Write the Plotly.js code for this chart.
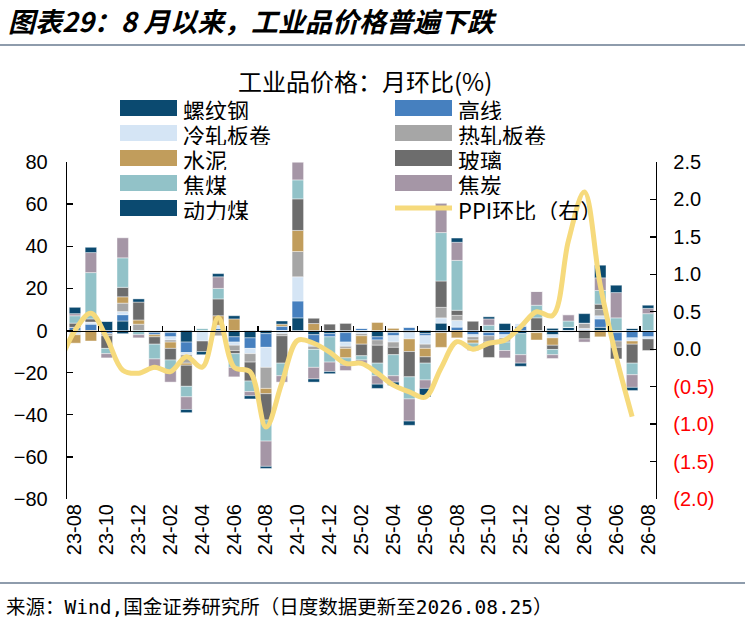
<!DOCTYPE html>
<html>
<head>
<meta charset="utf-8">
<script src="https://cdn.plot.ly/plotly-3.0.1.min.js"></script>
<style>
  html, body { margin: 0; padding: 0; background: #fff; }
  #chart { width: 745px; height: 624px; }
</style>
</head>
<body>
<div id="chart"></div>
<script>
// 月份（柱状图）
const months = ['23-08','23-09','23-10','23-11','23-12','24-01','24-02','24-03','24-04','24-05','24-06','24-07',
  '24-08','24-09','24-10','24-11','24-12','25-01','25-02','25-03','25-04','25-05','25-06','25-07',
  '25-08','25-09','25-10','25-11','25-12','26-01','26-02','26-03','26-04','26-05','26-06','26-07','26-08'];
const tickMonths = ['23-08','23-10','23-12','24-02','24-04','24-06','24-08','24-10','24-12','25-02',
  '25-04','25-06','25-08','25-10','25-12','26-02','26-04','26-06','26-08'];

// 各品种月环比贡献（%）
const rebar   = [-1,0,4.5,4.5,0,-1,-1,-5.5,0,0,-3,-3.5,-1.5,0,6,-2,-1.5,-1,0,-3,-1,-1,-1.5,3.5,0,0,-1,0,-1.5,0,-2,1.5,0,1.5,-1,1,0];
const wire    = [1.5,3,-1.5,3,0,-1,-2,-5,0,1,-2.5,-5,-6.5,2,8,-4,-1.5,-4.5,1,-1.5,-1.5,1.5,-1,-1,1.6,-2,-1.5,-2,2,0,0,0,0,4,-4,-3.5,-3];
const coldRoll= [-1,1,0,1.5,0,0,-1.5,-1,-5,1.5,-1.5,-2.5,-9.5,-1.5,11.5,-1.5,0,-2,-1.5,0,-3,-3,-4,2.5,3.2,-1,0,-1.5,1.5,-1,-1.5,-1,1,1.5,0,-1.5,-1];
const hotRoll = [0,0,-1,4,3,0,-1,-4,0,-2.5,-2.5,-4,-10,-1,12,-1.5,0,-1,-1,-2.5,-2.5,0,-2,5,2.4,-1.5,-3,-2,0,0,0,0,2.5,3,-3,0,0];
const cement  = [-4,-5,0,3,2,-1,-3,-1,0,4.5,5.5,0,-2.5,1,10,3.3,0,-4.5,-4,3.8,1,-6,-4,-7,-3.5,-1.5,0,0,0,-3.5,-3.5,0,0,-3,0,-1.5,0];
const glass   = [2,1.5,-6,4.5,8.5,-3.5,-5.5,-10,-5,8,-1.5,-9,-12.5,-13,15,2.5,3,3.5,-5.5,-8.5,-3.5,-12,-3,12.5,2.4,4.5,-7.3,0,0,6,-2,0,-4,2.5,-5.5,-9,-5.5];
const cokingCoal = [3.5,22,-2.5,14,-2,-7,-5,-5,1,5,-6.5,-5,-10,-6,9,-8.5,-12,-3.5,-2,-6,-10,-10.5,-8,23,23.7,-2,2.5,-4,-10,6,-2.5,3,0,6.5,6,-5.5,8];
const coke    = [1,9.5,-2,9.5,-1.5,-5,-5.5,-6,0,5.5,-4.5,-2,-12,-3,8.5,-5.5,-4.5,-2.5,-1.5,-4,-3,-10.5,-4,14,8.6,-1.5,3,-3.5,-4,6.5,-1.8,3,-1.5,6,12,-6,2.5];
const thermalCoal = [3,2.5,0,-1.5,1.5,0,0,-1.5,-1.5,1.5,1.5,-1.5,-1,1.5,0,-1.5,-1,0,0,-2,-1.5,-2,-4,0,2,0,1,3.3,-1.5,0,1,0,4.5,6,3.5,-1.5,1.5];

// PPI 环比（右轴，%）
const ppiMonths = ['23-07','23-08','23-09','23-10','23-11','23-12','24-01','24-02','24-03','24-04','24-05','24-06',
  '24-07','24-08','24-09','24-10','24-11','24-12','25-01','25-02','25-03','25-04','25-05','25-06',
  '25-07','25-08','25-09','25-10','25-11','25-12','26-01','26-02','26-03','26-04','26-05','26-06','26-07'];
const ppi = [-0.2,0.25,0.48,0.15,-0.28,-0.32,-0.24,-0.3,-0.1,-0.24,0.42,-0.24,-0.3,-1.04,-0.45,0.12,0.08,-0.04,
  -0.19,-0.19,-0.32,-0.48,-0.57,-0.64,-0.25,0.1,0.0,0.08,0.12,0.3,0.5,0.45,1.45,2.1,0.85,-0.1,-0.9];

const leftTicks = [-80,-60,-40,-20,0,20,40,60,80];
const rightTickVals = [-2,-1.5,-1,-0.5,0,0.5,1,1.5,2,2.5];
const rightTickText = ['(2.0)','(1.5)','(1.0)','(0.5)','0.0','0.5','1.0','1.5','2.0','2.5'];

const seriesNames = ['螺纹钢','高线','冷轧板卷','热轧板卷','水泥','玻璃','焦煤','焦炭','动力煤'];
const seriesData  = [rebar, wire, coldRoll, hotRoll, cement, glass, cokingCoal, coke, thermalCoal];
const seriesColors = ['#0B4A70','#4680BF','#D5E5F5','#A6A6A6','#C19D5C','#6D6D6D','#92C2C8','#A596A6','#0B4A70'];
const ppiName = 'PPI环比（右）';
const ppiColor = '#F6DA7C';

const CJK = '"Noto Sans CJK SC", sans-serif';
const NUM = '"Liberation Sans", Arial, sans-serif';
const SRC = '"DejaVu Sans Mono", "Noto Sans CJK SC", monospace';

// 绘图区像素位置
const PL = 67, PR = 656, PT = 162, PB = 499;
const px = x => (x - PL) / (PR - PL);
const py = y => (PB - y) / (PB - PT);

function monthIndex(m) {
  const [yy, mm] = m.split('-').map(Number);
  return (yy - 23) * 12 + (mm - 8);
}

const traces = seriesNames.map((name, k) => ({
  type: 'bar',
  name: name,
  x: months,
  y: seriesData[k],
  marker: { color: seriesColors[k], line: { color: 'rgba(255,255,255,0.7)', width: 0.6 } },
  hoverinfo: 'x+y+name',
  showlegend: false
}));

traces.push({
  type: 'scatter',
  mode: 'lines',
  name: ppiName,
  x: ppiMonths.map(monthIndex),
  y: ppi,
  xaxis: 'x2',
  yaxis: 'y2',
  line: { color: ppiColor, width: 5, shape: 'spline', smoothing: 1 },
  showlegend: false
});

// 手绘图例（两列）
const shapes = [];
const annotations = [];
const legendNames = seriesNames.concat([ppiName]);
const legendColors = seriesColors.concat([ppiColor]);
legendNames.forEach((name, k) => {
  const row = Math.floor(k / 2), col = k % 2;
  const sx = col === 0 ? 120 : 395;
  const cy = 108 + row * 25;
  if (k < seriesNames.length) {
    shapes.push({ type: 'rect', xref: 'paper', yref: 'paper',
      x0: px(sx), x1: px(sx + 57), y0: py(cy + 8), y1: py(cy - 8),
      fillcolor: legendColors[k], line: { width: 0 } });
  } else {
    shapes.push({ type: 'line', xref: 'paper', yref: 'paper',
      x0: px(sx), x1: px(sx + 57), y0: py(cy), y1: py(cy),
      line: { color: legendColors[k], width: 5 } });
  }
  annotations.push({ xref: 'paper', yref: 'paper', x: px(sx + 61), y: py(cy),
    xanchor: 'left', yanchor: 'middle', showarrow: false, text: name, height: 23,
    font: { family: CJK, size: 22, color: '#000' } });
});

// 标题与分隔线
shapes.push({ type: 'line', xref: 'paper', yref: 'paper', x0: px(0), x1: px(745), y0: py(45), y1: py(45),
  line: { color: '#1F3A5A', width: 1.2 } });
shapes.push({ type: 'line', xref: 'paper', yref: 'paper', x0: px(0), x1: px(745), y0: py(583), y1: py(583),
  line: { color: '#1F3A5A', width: 1.2 } });

annotations.push({ xref: 'paper', yref: 'paper', x: px(6), y: py(20), xanchor: 'left', yanchor: 'middle',
  showarrow: false, text: '<b><i>图表29：8 月以来，工业品价格普遍下跌</i></b>',
  font: { family: CJK, size: 27, color: '#000' } });
annotations.push({ xref: 'paper', yref: 'paper', x: px(365), y: py(80), xanchor: 'center', yanchor: 'middle',
  showarrow: false, text: '工业品价格：月环比(%)',
  font: { family: CJK, size: 24, color: '#000' } });
annotations.push({ xref: 'paper', yref: 'paper', x: px(4), y: py(607), xanchor: 'left', yanchor: 'middle',
  showarrow: false, text: '来源：Wind,国金证券研究所（日度数据更新至2026.08.25）',
  font: { family: SRC, size: 19.5, color: '#000' } });

const layout = {
  width: 745, height: 624,
  margin: { l: PL, r: 745 - PR, t: PT, b: 624 - PB },
  paper_bgcolor: '#fff', plot_bgcolor: '#fff',
  barmode: 'relative',
  bargap: 0.28,
  showlegend: false,
  xaxis: {
    type: 'category',
    tickmode: 'array', tickvals: tickMonths, ticktext: tickMonths,
    tickangle: -90, ticks: '', showline: false, showgrid: false, zeroline: false,
    tickfont: { family: NUM, size: 20, color: '#000' }
  },
  xaxis2: {
    type: 'linear', overlaying: 'x', anchor: 'free', position: 0.5,
    range: [-0.5, months.length - 0.5],
    tickmode: 'array', tickvals: tickMonths.map(m => monthIndex(m) - 0.5),
    ticks: 'inside', ticklen: 5, tickcolor: '#000', tickwidth: 1.3,
    showticklabels: false, showline: true, linecolor: '#000', linewidth: 1.6,
    showgrid: false, zeroline: false
  },
  yaxis: {
    range: [-80, 80], tickmode: 'array', tickvals: leftTicks,
    ticks: 'inside', ticklen: 6, tickcolor: '#000', tickwidth: 1.3,
    showline: true, linecolor: '#000', linewidth: 1.3,
    showgrid: false, zeroline: false, ticklabelstandoff: 14,
    tickfont: { family: NUM, size: 20, color: '#000' }
  },
  yaxis2: {
    overlaying: 'y', side: 'right', range: [-2, 2.5],
    tickmode: 'array', tickvals: rightTickVals,
    ticktext: rightTickText.map(t => t.startsWith('(') ? '<span style="color:#FF0000">' + t + '</span>' : t),
    ticks: 'inside', ticklen: 6, tickcolor: '#000', tickwidth: 1.3,
    showline: true, linecolor: '#000', linewidth: 1.3,
    showgrid: false, zeroline: false, ticklabelstandoff: 12,
    tickfont: { family: NUM, size: 20, color: '#000' }
  },
  shapes: shapes,
  annotations: annotations
};

Plotly.newPlot('chart', traces, layout, { displayModeBar: false, staticPlot: true });
</script>
</body>
</html>
